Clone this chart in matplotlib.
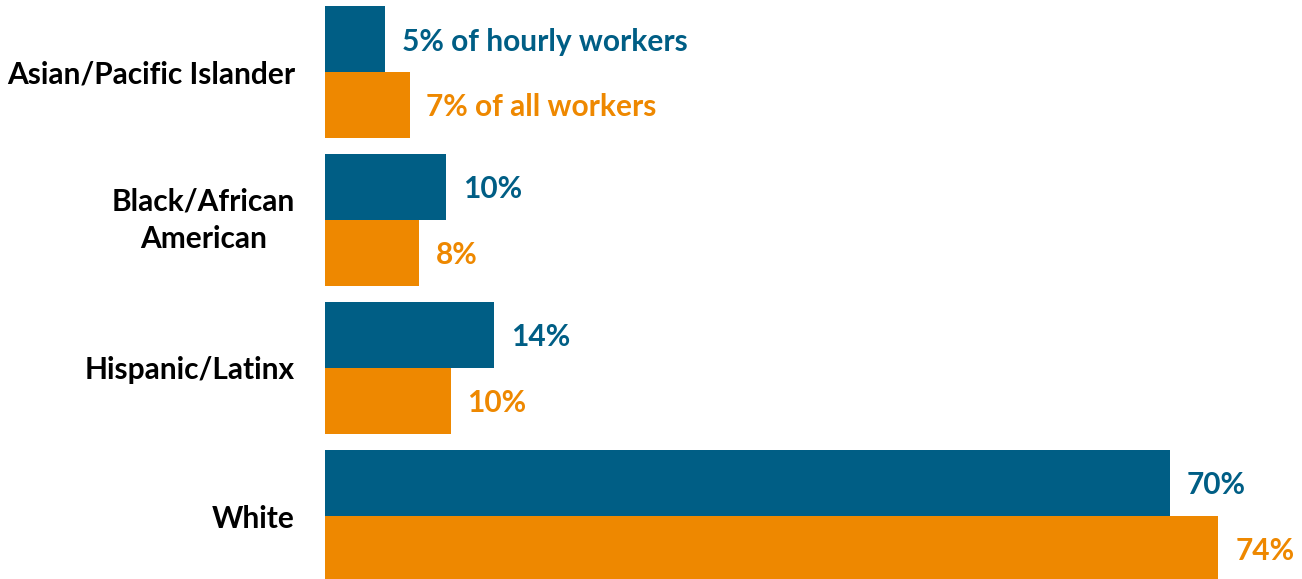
import matplotlib.pyplot as plt

categories = ["Asian/Pacific Islander", "Black/African\nAmerican", "Hispanic/Latinx", "White"]
hourly = [5, 10, 14, 70]
all_workers = [7, 7.8, 10.4, 74]
hourly_labels = ["5% of hourly workers", "10%", "14%", "70%"]
all_labels = ["7% of all workers", "8%", "10%", "74%"]

blue = "#005E85"
orange = "#EE8800"
font = "Lato"
fs = 21.5

fig = plt.figure(figsize=(13.02, 5.79), dpi=100)
ax = fig.add_axes([325 / 1302, 0, 1 - 325 / 1302, 1])

h = 66 / 148
pos = list(range(len(categories)))
ax.barh([p - h / 2 for p in pos], hourly, height=h, color=blue)
ax.barh([p + h / 2 for p in pos], all_workers, height=h, color=orange)

xmax = (1302 - 325) / (845 / 70)
ax.set_xlim(0, xmax)
ax.set_ylim(507 / 148, -72 / 148)

pad = 17 / (845 / 70)
for p, v, s in zip(pos, hourly, hourly_labels):
    ax.text(v + pad, p - h / 2, s, color=blue, fontsize=fs, fontweight="bold",
            family=font, ha="left", va="center_baseline")
for p, v, s in zip(pos, all_workers, all_labels):
    ax.text(v + pad, p + h / 2, s, color=orange, fontsize=fs, fontweight="bold",
            family=font, ha="left", va="center_baseline")

ax.set_yticks(pos)
ax.set_yticklabels(categories, fontsize=fs, fontweight="bold", family=font,
                   multialignment="center", linespacing=1.42)
ax.get_yticklabels()[1].set_va("center")
ax.tick_params(axis="y", length=0, pad=21.6)
ax.set_xticks([])
for sp in ax.spines.values():
    sp.set_visible(False)

fig.savefig("out.png", dpi=100)
